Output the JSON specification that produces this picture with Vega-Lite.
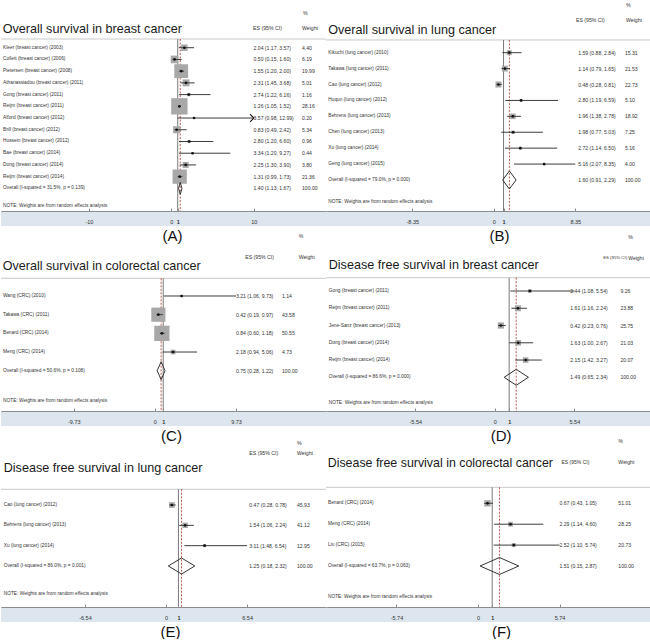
{
"$schema": "https://vega.github.io/schema/vega-lite/v6.json",
"padding": 0,
"background": "white",
"spacing": 0,
"bounds": "flush",
"columns": 2,
"resolve": {"scale": {"size": "independent", "x": "independent", "y": "independent"}},
"config": {
  "view": {"stroke": null},
  "font": "Liberation Sans",
  "axisY": {"disable": true},
  "axisX": {"grid": false, "domainColor": "#8c8c8c", "tickColor": "#8c8c8c", "tickSize": -3, "labelPadding": 11, "labelFontSize": 5.5, "labelColor": "#333333", "labelFlush": false, "labelOverlap": false, "titleFontSize": 15, "titleFont": "Liberation Sans", "titleFontWeight": "normal", "titleColor": "#111111", "titleBaseline": "top", "titleY": 17, "offset": -15}
},
"datasets": {
"A": [
 {"study": "Kleer  (breast cancer) (2003)", "es": 2.04, "lo": 1.17, "hi": 3.57, "weight": 4.40, "ci": "2.04 (1.17, 3.57)", "row": 1, "kind": "study"},
 {"study": "Collett  (breast cancer) (2006)", "es": 0.50, "lo": 0.15, "hi": 1.60, "weight": 6.19, "ci": "0.50 (0.15, 1.60)", "row": 2, "kind": "study"},
 {"study": "Pietersen  (breast cancer) (2008)", "es": 1.55, "lo": 1.20, "hi": 2.00, "weight": 19.99, "ci": "1.55 (1.20, 2.00)", "row": 3, "kind": "study"},
 {"study": "Athanassiadou  (breast cancer) (2011)", "es": 2.31, "lo": 1.45, "hi": 3.68, "weight": 5.01, "ci": "2.31 (1.45, 3.68)", "row": 4, "kind": "study"},
 {"study": "Gong  (breast cancer) (2011)", "es": 2.74, "lo": 1.22, "hi": 6.16, "weight": 1.16, "ci": "2.74 (1.22, 6.16)", "row": 5, "kind": "study"},
 {"study": "Reijm  (breast cancer) (2011)", "es": 1.26, "lo": 1.05, "hi": 1.52, "weight": 28.16, "ci": "1.26 (1.05, 1.52)", "row": 6, "kind": "study"},
 {"study": "Alford  (breast cancer) (2012)", "es": 3.57, "lo": 0.98, "hi": 12.99, "weight": 0.20, "ci": "3.57 (0.98, 12.99)", "row": 7, "kind": "study"},
 {"study": "Brill  (breast cancer) (2012)", "es": 0.83, "lo": 0.49, "hi": 2.42, "weight": 5.34, "ci": "0.83 (0.49, 2.42)", "row": 8, "kind": "study"},
 {"study": "Hussein  (breast cancer) (2012)", "es": 2.80, "lo": 1.20, "hi": 6.60, "weight": 0.96, "ci": "2.80 (1.20, 6.60)", "row": 9, "kind": "study"},
 {"study": "Bae  (breast cancer) (2014)", "es": 3.34, "lo": 1.20, "hi": 9.27, "weight": 0.44, "ci": "3.34 (1.20, 9.27)", "row": 10, "kind": "study"},
 {"study": "Dong  (breast cancer) (2014)", "es": 2.25, "lo": 1.30, "hi": 3.90, "weight": 3.80, "ci": "2.25 (1.30, 3.90)", "row": 11, "kind": "study"},
 {"study": "Reijm  (breast cancer) (2014)", "es": 1.31, "lo": 0.99, "hi": 1.73, "weight": 21.36, "ci": "1.31 (0.99, 1.73)", "row": 12, "kind": "study"},
 {"study": "Overall  (I-squared = 31.5%, p = 0.139)", "es": 1.40, "lo": 1.13, "hi": 1.67, "weight": 100, "ci": "1.40 (1.13, 1.67)", "row": 13, "kind": "overall"}
],
"B": [
 {"study": "Kikuchi  (lung cancer) (2010)", "es": 1.59, "lo": 0.88, "hi": 2.84, "weight": 15.31, "ci": "1.59 (0.88, 2.84)", "row": 1, "kind": "study"},
 {"study": "Takawa  (lung cancer) (2011)", "es": 1.14, "lo": 0.79, "hi": 1.65, "weight": 21.53, "ci": "1.14 (0.79, 1.65)", "row": 2, "kind": "study"},
 {"study": "Cao  (lung cancer) (2012)", "es": 0.48, "lo": 0.28, "hi": 0.81, "weight": 22.73, "ci": "0.48 (0.28, 0.81)", "row": 3, "kind": "study"},
 {"study": "Huqun  (lung cancer) (2012)", "es": 2.80, "lo": 1.19, "hi": 6.59, "weight": 5.10, "ci": "2.80 (1.19, 6.59)", "row": 4, "kind": "study"},
 {"study": "Behrens  (lung cancer) (2013)", "es": 1.96, "lo": 1.38, "hi": 2.78, "weight": 18.92, "ci": "1.96 (1.38, 2.78)", "row": 5, "kind": "study"},
 {"study": "Chen  (lung cancer) (2013)", "es": 1.98, "lo": 0.77, "hi": 5.03, "weight": 7.25, "ci": "1.98 (0.77, 5.03)", "row": 6, "kind": "study"},
 {"study": "Xu  (lung cancer) (2014)", "es": 2.72, "lo": 1.14, "hi": 6.50, "weight": 5.16, "ci": "2.72 (1.14, 6.50)", "row": 7, "kind": "study"},
 {"study": "Geng  (lung cancer) (2015)", "es": 5.16, "lo": 2.07, "hi": 8.35, "weight": 4.00, "ci": "5.16 (2.07, 8.35)", "row": 8, "kind": "study"},
 {"study": "Overall  (I-squared = 79.0%, p = 0.000)", "es": 1.60, "lo": 0.91, "hi": 2.29, "weight": 100, "ci": "1.60 (0.91, 2.29)", "row": 9, "kind": "overall"}
],
"C": [
 {"study": "Wang  (CRC) (2010)", "es": 3.21, "lo": 1.06, "hi": 9.73, "weight": 1.14, "ci": "3.21 (1.06, 9.73)", "row": 1, "kind": "study"},
 {"study": "Takawa  (CRC) (2011)", "es": 0.42, "lo": 0.19, "hi": 0.97, "weight": 43.58, "ci": "0.42 (0.19, 0.97)", "row": 2, "kind": "study"},
 {"study": "Benard  (CRC) (2014)", "es": 0.84, "lo": 0.60, "hi": 1.18, "weight": 50.55, "ci": "0.84 (0.60, 1.18)", "row": 3, "kind": "study"},
 {"study": "Meng  (CRC) (2014)", "es": 2.18, "lo": 0.94, "hi": 5.06, "weight": 4.73, "ci": "2.18 (0.94, 5.06)", "row": 4, "kind": "study"},
 {"study": "Overall  (I-squared = 50.6%, p = 0.108)", "es": 0.75, "lo": 0.28, "hi": 1.22, "weight": 100, "ci": "0.75 (0.28, 1.22)", "row": 5, "kind": "overall"}
],
"D": [
 {"study": "Gong  (breast cancer) (2011)", "es": 2.44, "lo": 1.08, "hi": 5.54, "weight": 9.26, "ci": "2.44 (1.08, 5.54)", "row": 1, "kind": "study"},
 {"study": "Reijm  (breast cancer) (2011)", "es": 1.61, "lo": 1.16, "hi": 2.24, "weight": 23.88, "ci": "1.61 (1.16, 2.24)", "row": 2, "kind": "study"},
 {"study": "Jene-Sanz  (breast cancer) (2013)", "es": 0.42, "lo": 0.23, "hi": 0.76, "weight": 25.75, "ci": "0.42 (0.23, 0.76)", "row": 3, "kind": "study"},
 {"study": "Dong  (breast cancer) (2014)", "es": 1.63, "lo": 1.00, "hi": 2.67, "weight": 21.03, "ci": "1.63 (1.00, 2.67)", "row": 4, "kind": "study"},
 {"study": "Reijm  (breast cancer) (2014)", "es": 2.15, "lo": 1.42, "hi": 3.27, "weight": 20.07, "ci": "2.15 (1.42, 3.27)", "row": 5, "kind": "study"},
 {"study": "Overall  (I-squared = 86.6%, p = 0.000)", "es": 1.49, "lo": 0.65, "hi": 2.34, "weight": 100, "ci": "1.49 (0.65, 2.34)", "row": 6, "kind": "overall"}
],
"E": [
 {"study": "Cao  (lung cancer) (2012)", "es": 0.47, "lo": 0.28, "hi": 0.78, "weight": 45.93, "ci": "0.47 (0.28, 0.78)", "row": 1, "kind": "study"},
 {"study": "Behrens  (lung cancer) (2013)", "es": 1.54, "lo": 1.06, "hi": 2.24, "weight": 41.12, "ci": "1.54 (1.06, 2.24)", "row": 2, "kind": "study"},
 {"study": "Xu  (lung cancer) (2014)", "es": 3.11, "lo": 1.48, "hi": 6.54, "weight": 12.95, "ci": "3.11 (1.48, 6.54)", "row": 3, "kind": "study"},
 {"study": "Overall  (I-squared = 86.0%, p = 0.001)", "es": 1.25, "lo": 0.18, "hi": 2.32, "weight": 100, "ci": "1.25 (0.18, 2.32)", "row": 4, "kind": "overall"}
],
"F": [
 {"study": "Benard  (CRC) (2014)", "es": 0.67, "lo": 0.43, "hi": 1.05, "weight": 51.01, "ci": "0.67 (0.43, 1.05)", "row": 1, "kind": "study"},
 {"study": "Meng  (CRC) (2014)", "es": 2.29, "lo": 1.14, "hi": 4.60, "weight": 28.25, "ci": "2.29 (1.14, 4.60)", "row": 2, "kind": "study"},
 {"study": "Liu  (CRC) (2015)", "es": 2.52, "lo": 1.10, "hi": 5.74, "weight": 20.73, "ci": "2.52 (1.10, 5.74)", "row": 3, "kind": "study"},
 {"study": "Overall  (I-squared = 63.7%, p = 0.063)", "es": 1.51, "lo": 0.15, "hi": 2.87, "weight": 100, "ci": "1.51 (0.15, 2.87)", "row": 4, "kind": "overall"}
]
},
"concat": [
{
 "width": 325, "height": 226, "data": {"name": "A"},
 "layer": [
  {"data": {"values": [{}]}, "mark": {"type": "rect", "color": "#dde6ee"},
   "encoding": {"x": {"datum": -26.83, "type": "quantitative", "scale": {"domain": [-26.83, 24.35], "nice": false, "zero": false},
      "axis": {"zindex": 1, "values": [-12.99, 0, 1, 12.99], "labelExpr": "abs(datum.value) > 12 ? (datum.value < 0 ? '-10' : '10') : '' + datum.value", "title": "(A)", "titleX": 171, "labelFontWeight": {"condition": {"test": "datum.value == 1", "value": "bold"}, "value": "normal"}}},
     "x2": {"datum": 24.35},
     "y": {"datum": 14.94, "type": "quantitative", "scale": {"domain": [-3.07, 16.21], "reverse": true, "nice": false, "zero": false}},
     "y2": {"datum": 16.21}}},
  {"data": {"values": [{}]}, "mark": {"type": "rule", "color": "#c9c9c9", "strokeWidth": 1},
   "encoding": {"x": {"datum": -26.83, "type": "quantitative"}, "x2": {"datum": 24.35}, "y": {"datum": 0.258, "type": "quantitative"}}},
  {"data": {"values": [{}]}, "mark": {"type": "rule", "color": "#7a7a7a", "strokeWidth": 1},
   "encoding": {"x": {"datum": 1, "type": "quantitative"}, "y": {"datum": 0.258, "type": "quantitative"}, "y2": {"datum": 14.94}}},
  {"transform": [{"filter": "datum.kind == 'overall'"}], "mark": {"type": "rule", "color": "#b24a3c", "strokeWidth": 0.9, "strokeDash": [2, 1.5]},
   "encoding": {"x": {"field": "es", "type": "quantitative"}, "y": {"datum": 0.258, "type": "quantitative"}, "y2": {"datum": 14.94}}},
  {"transform": [{"filter": "datum.kind == 'study'"}], "mark": {"type": "point", "shape": "square", "filled": true, "color": "#a8a8a8", "opacity": 1},
   "encoding": {"x": {"field": "es", "type": "quantitative"}, "y": {"field": "row", "type": "quantitative"}, "size": {"field": "weight", "type": "quantitative", "scale": {"domain": [0, 100], "range": [0, 950]}, "legend": null}}},
  {"transform": [{"filter": "datum.kind == 'study'"}], "mark": {"type": "rule", "color": "#3c3c3c", "strokeWidth": 1},
   "encoding": {"x": {"field": "lo", "type": "quantitative"}, "x2": {"field": "hi"}, "y": {"field": "row", "type": "quantitative"}}},
  {"transform": [{"filter": "datum.kind == 'study'"}], "mark": {"type": "point", "shape": "circle", "filled": true, "color": "#111111", "size": 7, "opacity": 1},
   "encoding": {"x": {"field": "es", "type": "quantitative"}, "y": {"field": "row", "type": "quantitative"}}},
  {"transform": [{"filter": "datum.hi > 12"}], "mark": {"type": "point", "shape": "M-1,-1L0,0L-1,1", "filled": false, "color": "#111111", "strokeWidth": 1.1, "size": 60, "opacity": 1},
   "encoding": {"x": {"field": "hi", "type": "quantitative"}, "y": {"field": "row", "type": "quantitative"}}},
  {"transform": [{"filter": "datum.kind == 'overall'"}], "mark": {"type": "rule", "color": "#333333", "strokeWidth": 1, "y2Offset": -6},
   "encoding": {"x": {"field": "lo", "type": "quantitative"}, "x2": {"field": "es"}, "y": {"field": "row", "type": "quantitative"}, "y2": {"field": "row"}}},
  {"transform": [{"filter": "datum.kind == 'overall'"}], "mark": {"type": "rule", "color": "#333333", "strokeWidth": 1, "yOffset": -6},
   "encoding": {"x": {"field": "es", "type": "quantitative"}, "x2": {"field": "hi"}, "y": {"field": "row", "type": "quantitative"}, "y2": {"field": "row"}}},
  {"transform": [{"filter": "datum.kind == 'overall'"}], "mark": {"type": "rule", "color": "#333333", "strokeWidth": 1, "y2Offset": 6},
   "encoding": {"x": {"field": "lo", "type": "quantitative"}, "x2": {"field": "es"}, "y": {"field": "row", "type": "quantitative"}, "y2": {"field": "row"}}},
  {"transform": [{"filter": "datum.kind == 'overall'"}], "mark": {"type": "rule", "color": "#333333", "strokeWidth": 1, "yOffset": 6},
   "encoding": {"x": {"field": "es", "type": "quantitative"}, "x2": {"field": "hi"}, "y": {"field": "row", "type": "quantitative"}, "y2": {"field": "row"}}},
  {"mark": {"type": "text", "align": "left", "baseline": "middle", "fontSize": 4.8, "color": "#333333"},
   "encoding": {"x": {"datum": -26.51, "type": "quantitative"}, "y": {"field": "row", "type": "quantitative"}, "text": {"field": "study"}}},
  {"mark": {"type": "text", "align": "left", "baseline": "middle", "fontSize": 5.1, "color": "#333333"},
   "encoding": {"x": {"datum": 12.94, "type": "quantitative"}, "y": {"field": "row", "type": "quantitative"}, "text": {"field": "ci"}}},
  {"mark": {"type": "text", "align": "left", "baseline": "middle", "fontSize": 5.1, "color": "#333333"},
   "encoding": {"x": {"datum": 20.57, "type": "quantitative"}, "y": {"field": "row", "type": "quantitative"}, "text": {"field": "weight", "format": ".2f"}}},
  {"data": {"values": [{}]}, "mark": {"type": "text", "align": "left", "baseline": "middle", "fontSize": 4.8, "color": "#333333", "text": "NOTE: Weights are from random effects analysis"},
   "encoding": {"x": {"datum": -26.51, "type": "quantitative"}, "y": {"datum": 14.48, "type": "quantitative"}}},
  {"data": {"values": [{}]}, "mark": {"type": "text", "align": "left", "baseline": "alphabetic", "fontSize": 12.6, "color": "#1a1a1a", "text": "Overall survival in breast cancer"},
   "encoding": {"x": {"datum": -26.56, "type": "quantitative"}, "y": {"datum": -0.23, "type": "quantitative"}}},
  {"data": {"values": [{}]}, "mark": {"type": "text", "align": "left", "baseline": "middle", "fontSize": 5.2, "color": "#333333", "text": "ES (95% CI)"},
   "encoding": {"x": {"datum": 12.86, "type": "quantitative"}, "y": {"datum": -0.655, "type": "quantitative"}}},
  {"data": {"values": [{}]}, "mark": {"type": "text", "align": "left", "baseline": "middle", "fontSize": 5.2, "color": "#333333", "text": "Weight"},
   "encoding": {"x": {"datum": 20.57, "type": "quantitative"}, "y": {"datum": -0.655, "type": "quantitative"}}},
  {"data": {"values": [{}]}, "mark": {"type": "text", "align": "left", "baseline": "middle", "fontSize": 5.2, "color": "#333333", "text": "%"},
   "encoding": {"x": {"datum": 20.73, "type": "quantitative"}, "y": {"datum": -1.96, "type": "quantitative"}}}
 ]
},
{
 "width": 325, "height": 226, "data": {"name": "B"},
 "layer": [
  {"data": {"values": [{}]}, "mark": {"type": "rect", "color": "#dde6ee"},
   "encoding": {"x": {"datum": -17.19, "type": "quantitative", "scale": {"domain": [-17.19, 16.11], "nice": false, "zero": false},
      "axis": {"zindex": 1, "values": [-8.35, 0, 1, 8.35], "labelExpr": "datum.value < 0 ? '-' + abs(datum.value) : '' + datum.value", "title": "(B)", "titleX": 173, "labelFontWeight": {"condition": {"test": "datum.value == 1", "value": "bold"}, "value": "normal"}}},
     "x2": {"datum": 16.11},
     "y": {"datum": 10.95, "type": "quantitative", "scale": {"domain": [-2.312, 11.893], "reverse": true, "nice": false, "zero": false}},
     "y2": {"datum": 11.893}}},
  {"data": {"values": [{}]}, "mark": {"type": "rule", "color": "#c9c9c9", "strokeWidth": 1},
   "encoding": {"x": {"datum": -17.19, "type": "quantitative"}, "x2": {"datum": 16.11}, "y": {"datum": 0.20, "type": "quantitative"}}},
  {"data": {"values": [{}]}, "mark": {"type": "rule", "color": "#7a7a7a", "strokeWidth": 1},
   "encoding": {"x": {"datum": 1, "type": "quantitative"}, "y": {"datum": 0.20, "type": "quantitative"}, "y2": {"datum": 10.95}}},
  {"transform": [{"filter": "datum.kind == 'overall'"}], "mark": {"type": "rule", "color": "#b24a3c", "strokeWidth": 0.9, "strokeDash": [2, 1.5]},
   "encoding": {"x": {"field": "es", "type": "quantitative"}, "y": {"datum": 0.20, "type": "quantitative"}, "y2": {"datum": 10.95}}},
  {"transform": [{"filter": "datum.kind == 'study'"}], "mark": {"type": "point", "shape": "square", "filled": true, "color": "#a8a8a8", "opacity": 1},
   "encoding": {"x": {"field": "es", "type": "quantitative"}, "y": {"field": "row", "type": "quantitative"}, "size": {"field": "weight", "type": "quantitative", "scale": {"domain": [0, 100], "range": [0, 160]}, "legend": null}}},
  {"transform": [{"filter": "datum.kind == 'study'"}], "mark": {"type": "rule", "color": "#3c3c3c", "strokeWidth": 1},
   "encoding": {"x": {"field": "lo", "type": "quantitative"}, "x2": {"field": "hi"}, "y": {"field": "row", "type": "quantitative"}}},
  {"transform": [{"filter": "datum.kind == 'study'"}], "mark": {"type": "point", "shape": "circle", "filled": true, "color": "#111111", "size": 7, "opacity": 1},
   "encoding": {"x": {"field": "es", "type": "quantitative"}, "y": {"field": "row", "type": "quantitative"}}},
  {"transform": [{"filter": "datum.kind == 'overall'"}], "mark": {"type": "rule", "color": "#333333", "strokeWidth": 1, "y2Offset": -9},
   "encoding": {"x": {"field": "lo", "type": "quantitative"}, "x2": {"field": "es"}, "y": {"field": "row", "type": "quantitative"}, "y2": {"field": "row"}}},
  {"transform": [{"filter": "datum.kind == 'overall'"}], "mark": {"type": "rule", "color": "#333333", "strokeWidth": 1, "yOffset": -9},
   "encoding": {"x": {"field": "es", "type": "quantitative"}, "x2": {"field": "hi"}, "y": {"field": "row", "type": "quantitative"}, "y2": {"field": "row"}}},
  {"transform": [{"filter": "datum.kind == 'overall'"}], "mark": {"type": "rule", "color": "#333333", "strokeWidth": 1, "y2Offset": 9},
   "encoding": {"x": {"field": "lo", "type": "quantitative"}, "x2": {"field": "es"}, "y": {"field": "row", "type": "quantitative"}, "y2": {"field": "row"}}},
  {"transform": [{"filter": "datum.kind == 'overall'"}], "mark": {"type": "rule", "color": "#333333", "strokeWidth": 1, "yOffset": 9},
   "encoding": {"x": {"field": "es", "type": "quantitative"}, "x2": {"field": "hi"}, "y": {"field": "row", "type": "quantitative"}, "y2": {"field": "row"}}},
  {"mark": {"type": "text", "align": "left", "baseline": "middle", "fontSize": 4.8, "color": "#333333"},
   "encoding": {"x": {"datum": -16.96, "type": "quantitative"}, "y": {"field": "row", "type": "quantitative"}, "text": {"field": "study"}}},
  {"mark": {"type": "text", "align": "left", "baseline": "middle", "fontSize": 5.1, "color": "#333333"},
   "encoding": {"x": {"datum": 8.66, "type": "quantitative"}, "y": {"field": "row", "type": "quantitative"}, "text": {"field": "ci"}}},
  {"mark": {"type": "text", "align": "left", "baseline": "middle", "fontSize": 5.1, "color": "#333333"},
   "encoding": {"x": {"datum": 13.44, "type": "quantitative"}, "y": {"field": "row", "type": "quantitative"}, "text": {"field": "weight", "format": ".2f"}}},
  {"data": {"values": [{}]}, "mark": {"type": "text", "align": "left", "baseline": "middle", "fontSize": 4.8, "color": "#333333", "text": "NOTE: Weights are from random effects analysis"},
   "encoding": {"x": {"datum": -16.96, "type": "quantitative"}, "y": {"datum": 10.40, "type": "quantitative"}}},
  {"data": {"values": [{}]}, "mark": {"type": "text", "align": "left", "baseline": "alphabetic", "fontSize": 12.6, "color": "#1a1a1a", "text": "Overall survival in lung cancer"},
   "encoding": {"x": {"datum": -16.96, "type": "quantitative"}, "y": {"datum": -0.157, "type": "quantitative"}}},
  {"data": {"values": [{}]}, "mark": {"type": "text", "align": "left", "baseline": "middle", "fontSize": 5.2, "color": "#333333", "text": "ES (95% CI)"},
   "encoding": {"x": {"datum": 8.42, "type": "quantitative"}, "y": {"datum": -1.055, "type": "quantitative"}}},
  {"data": {"values": [{}]}, "mark": {"type": "text", "align": "left", "baseline": "middle", "fontSize": 5.2, "color": "#333333", "text": "Weight"},
   "encoding": {"x": {"datum": 13.55, "type": "quantitative"}, "y": {"datum": -1.055, "type": "quantitative"}}},
  {"data": {"values": [{}]}, "mark": {"type": "text", "align": "left", "baseline": "middle", "fontSize": 5.2, "color": "#333333", "text": "%"},
   "encoding": {"x": {"datum": 13.55, "type": "quantitative"}, "y": {"datum": -2.0, "type": "quantitative"}}}
 ]
},
{
 "width": 325, "height": 200, "data": {"name": "C"},
 "layer": [
  {"data": {"values": [{}]}, "mark": {"type": "rect", "color": "#dde6ee"},
   "encoding": {"x": {"datum": -18.45, "type": "quantitative", "scale": {"domain": [-18.45, 20.52], "nice": false, "zero": false},
      "axis": {"zindex": 1, "values": [-9.73, 0, 1, 9.73], "labelExpr": "datum.value < 0 ? '-' + abs(datum.value) : '' + datum.value", "title": "(C)", "titleX": 170, "labelFontWeight": {"condition": {"test": "datum.value == 1", "value": "bold"}, "value": "normal"}}},
     "x2": {"datum": 20.52},
     "y": {"datum": 7.158, "type": "quantitative", "scale": {"domain": [-2.748, 7.961], "reverse": true, "nice": false, "zero": false}},
     "y2": {"datum": 7.961}}},
  {"data": {"values": [{}]}, "mark": {"type": "rule", "color": "#c9c9c9", "strokeWidth": 1},
   "encoding": {"x": {"datum": -18.45, "type": "quantitative"}, "x2": {"datum": 20.52}, "y": {"datum": 0.052, "type": "quantitative"}}},
  {"data": {"values": [{}]}, "mark": {"type": "rule", "color": "#7a7a7a", "strokeWidth": 1},
   "encoding": {"x": {"datum": 1, "type": "quantitative"}, "y": {"datum": 0.052, "type": "quantitative"}, "y2": {"datum": 7.158}}},
  {"transform": [{"filter": "datum.kind == 'overall'"}], "mark": {"type": "rule", "color": "#b24a3c", "strokeWidth": 0.9, "strokeDash": [2, 1.5]},
   "encoding": {"x": {"field": "es", "type": "quantitative"}, "y": {"datum": 0.052, "type": "quantitative"}, "y2": {"datum": 7.158}}},
  {"transform": [{"filter": "datum.kind == 'study'"}], "mark": {"type": "point", "shape": "square", "filled": true, "color": "#a8a8a8", "opacity": 1},
   "encoding": {"x": {"field": "es", "type": "quantitative"}, "y": {"field": "row", "type": "quantitative"}, "size": {"field": "weight", "type": "quantitative", "scale": {"domain": [0, 100], "range": [0, 460]}, "legend": null}}},
  {"transform": [{"filter": "datum.kind == 'study'"}], "mark": {"type": "rule", "color": "#3c3c3c", "strokeWidth": 1},
   "encoding": {"x": {"field": "lo", "type": "quantitative"}, "x2": {"field": "hi"}, "y": {"field": "row", "type": "quantitative"}}},
  {"transform": [{"filter": "datum.kind == 'study'"}], "mark": {"type": "point", "shape": "circle", "filled": true, "color": "#111111", "size": 7, "opacity": 1},
   "encoding": {"x": {"field": "es", "type": "quantitative"}, "y": {"field": "row", "type": "quantitative"}}},
  {"transform": [{"filter": "datum.kind == 'overall'"}], "mark": {"type": "rule", "color": "#333333", "strokeWidth": 1, "y2Offset": -9},
   "encoding": {"x": {"field": "lo", "type": "quantitative"}, "x2": {"field": "es"}, "y": {"field": "row", "type": "quantitative"}, "y2": {"field": "row"}}},
  {"transform": [{"filter": "datum.kind == 'overall'"}], "mark": {"type": "rule", "color": "#333333", "strokeWidth": 1, "yOffset": -9},
   "encoding": {"x": {"field": "es", "type": "quantitative"}, "x2": {"field": "hi"}, "y": {"field": "row", "type": "quantitative"}, "y2": {"field": "row"}}},
  {"transform": [{"filter": "datum.kind == 'overall'"}], "mark": {"type": "rule", "color": "#333333", "strokeWidth": 1, "y2Offset": 9},
   "encoding": {"x": {"field": "lo", "type": "quantitative"}, "x2": {"field": "es"}, "y": {"field": "row", "type": "quantitative"}, "y2": {"field": "row"}}},
  {"transform": [{"filter": "datum.kind == 'overall'"}], "mark": {"type": "rule", "color": "#333333", "strokeWidth": 1, "yOffset": 9},
   "encoding": {"x": {"field": "es", "type": "quantitative"}, "x2": {"field": "hi"}, "y": {"field": "row", "type": "quantitative"}, "y2": {"field": "row"}}},
  {"mark": {"type": "text", "align": "left", "baseline": "middle", "fontSize": 4.8, "color": "#333333"},
   "encoding": {"x": {"datum": -18.21, "type": "quantitative"}, "y": {"field": "row", "type": "quantitative"}, "text": {"field": "study"}}},
  {"mark": {"type": "text", "align": "left", "baseline": "middle", "fontSize": 5.1, "color": "#333333"},
   "encoding": {"x": {"datum": 9.72, "type": "quantitative"}, "y": {"field": "row", "type": "quantitative"}, "text": {"field": "ci"}}},
  {"mark": {"type": "text", "align": "left", "baseline": "middle", "fontSize": 5.1, "color": "#333333"},
   "encoding": {"x": {"datum": 15.24, "type": "quantitative"}, "y": {"field": "row", "type": "quantitative"}, "text": {"field": "weight", "format": ".2f"}}},
  {"data": {"values": [{}]}, "mark": {"type": "text", "align": "left", "baseline": "middle", "fontSize": 4.8, "color": "#333333", "text": "NOTE: Weights are from random effects analysis"},
   "encoding": {"x": {"datum": -18.21, "type": "quantitative"}, "y": {"datum": 6.62, "type": "quantitative"}}},
  {"data": {"values": [{}]}, "mark": {"type": "text", "align": "left", "baseline": "alphabetic", "fontSize": 12.6, "color": "#1a1a1a", "text": "Overall survival in colorectal cancer"},
   "encoding": {"x": {"datum": -18.25, "type": "quantitative"}, "y": {"datum": -0.392, "type": "quantitative"}}},
  {"data": {"values": [{}]}, "mark": {"type": "text", "align": "left", "baseline": "middle", "fontSize": 5.2, "color": "#333333", "text": "ES (95% CI)"},
   "encoding": {"x": {"datum": 10.83, "type": "quantitative"}, "y": {"datum": -1.104, "type": "quantitative"}}},
  {"data": {"values": [{}]}, "mark": {"type": "text", "align": "left", "baseline": "middle", "fontSize": 5.2, "color": "#333333", "text": "Weight"},
   "encoding": {"x": {"datum": 17.24, "type": "quantitative"}, "y": {"datum": -1.104, "type": "quantitative"}}},
  {"data": {"values": [{}]}, "mark": {"type": "text", "align": "left", "baseline": "middle", "fontSize": 5.2, "color": "#333333", "text": "%"},
   "encoding": {"x": {"datum": 17.24, "type": "quantitative"}, "y": {"datum": -2.229, "type": "quantitative"}}}
 ]
},
{
 "width": 325, "height": 200, "data": {"name": "D"},
 "layer": [
  {"data": {"values": [{}]}, "mark": {"type": "rect", "color": "#dde6ee"},
   "encoding": {"x": {"datum": -11.76, "type": "quantitative", "scale": {"domain": [-11.76, 10.88], "nice": false, "zero": false},
      "axis": {"zindex": 1, "values": [-5.54, 0, 1, 5.54], "labelExpr": "datum.value < 0 ? '-' + abs(datum.value) : '' + datum.value", "title": "(D)", "titleX": 174.6, "labelFontWeight": {"condition": {"test": "datum.value == 1", "value": "bold"}, "value": "normal"}}},
     "x2": {"datum": 10.88},
     "y": {"datum": 7.952, "type": "quantitative", "scale": {"domain": [-2.766, 8.821], "reverse": true, "nice": false, "zero": false}},
     "y2": {"datum": 8.821}}},
  {"data": {"values": [{}]}, "mark": {"type": "rule", "color": "#c9c9c9", "strokeWidth": 1},
   "encoding": {"x": {"datum": -11.76, "type": "quantitative"}, "x2": {"datum": 10.88}, "y": {"datum": 0.229, "type": "quantitative"}}},
  {"data": {"values": [{}]}, "mark": {"type": "rule", "color": "#7a7a7a", "strokeWidth": 1},
   "encoding": {"x": {"datum": 1, "type": "quantitative"}, "y": {"datum": 0.229, "type": "quantitative"}, "y2": {"datum": 7.952}}},
  {"transform": [{"filter": "datum.kind == 'overall'"}], "mark": {"type": "rule", "color": "#b24a3c", "strokeWidth": 0.9, "strokeDash": [2, 1.5]},
   "encoding": {"x": {"field": "es", "type": "quantitative"}, "y": {"datum": 0.229, "type": "quantitative"}, "y2": {"datum": 7.952}}},
  {"transform": [{"filter": "datum.kind == 'study'"}], "mark": {"type": "point", "shape": "square", "filled": true, "color": "#a8a8a8", "opacity": 1},
   "encoding": {"x": {"field": "es", "type": "quantitative"}, "y": {"field": "row", "type": "quantitative"}, "size": {"field": "weight", "type": "quantitative", "scale": {"domain": [0, 100], "range": [0, 150]}, "legend": null}}},
  {"transform": [{"filter": "datum.kind == 'study'"}], "mark": {"type": "rule", "color": "#3c3c3c", "strokeWidth": 1},
   "encoding": {"x": {"field": "lo", "type": "quantitative"}, "x2": {"field": "hi"}, "y": {"field": "row", "type": "quantitative"}}},
  {"transform": [{"filter": "datum.kind == 'study'"}], "mark": {"type": "point", "shape": "circle", "filled": true, "color": "#111111", "size": 7, "opacity": 1},
   "encoding": {"x": {"field": "es", "type": "quantitative"}, "y": {"field": "row", "type": "quantitative"}}},
  {"transform": [{"filter": "datum.kind == 'overall'"}], "mark": {"type": "rule", "color": "#333333", "strokeWidth": 1, "y2Offset": -8},
   "encoding": {"x": {"field": "lo", "type": "quantitative"}, "x2": {"field": "es"}, "y": {"field": "row", "type": "quantitative"}, "y2": {"field": "row"}}},
  {"transform": [{"filter": "datum.kind == 'overall'"}], "mark": {"type": "rule", "color": "#333333", "strokeWidth": 1, "yOffset": -8},
   "encoding": {"x": {"field": "es", "type": "quantitative"}, "x2": {"field": "hi"}, "y": {"field": "row", "type": "quantitative"}, "y2": {"field": "row"}}},
  {"transform": [{"filter": "datum.kind == 'overall'"}], "mark": {"type": "rule", "color": "#333333", "strokeWidth": 1, "y2Offset": 8},
   "encoding": {"x": {"field": "lo", "type": "quantitative"}, "x2": {"field": "es"}, "y": {"field": "row", "type": "quantitative"}, "y2": {"field": "row"}}},
  {"transform": [{"filter": "datum.kind == 'overall'"}], "mark": {"type": "rule", "color": "#333333", "strokeWidth": 1, "yOffset": 8},
   "encoding": {"x": {"field": "es", "type": "quantitative"}, "x2": {"field": "hi"}, "y": {"field": "row", "type": "quantitative"}, "y2": {"field": "row"}}},
  {"mark": {"type": "text", "align": "left", "baseline": "middle", "fontSize": 4.8, "color": "#333333"},
   "encoding": {"x": {"datum": -11.57, "type": "quantitative"}, "y": {"field": "row", "type": "quantitative"}, "text": {"field": "study"}}},
  {"mark": {"type": "text", "align": "left", "baseline": "middle", "fontSize": 5.1, "color": "#333333"},
   "encoding": {"x": {"datum": 5.26, "type": "quantitative"}, "y": {"field": "row", "type": "quantitative"}, "text": {"field": "ci"}}},
  {"mark": {"type": "text", "align": "left", "baseline": "middle", "fontSize": 5.1, "color": "#333333"},
   "encoding": {"x": {"datum": 8.75, "type": "quantitative"}, "y": {"field": "row", "type": "quantitative"}, "text": {"field": "weight", "format": ".2f"}}},
  {"data": {"values": [{}]}, "mark": {"type": "text", "align": "left", "baseline": "middle", "fontSize": 4.8, "color": "#333333", "text": "NOTE: Weights are from random effects analysis"},
   "encoding": {"x": {"datum": -11.57, "type": "quantitative"}, "y": {"datum": 7.47, "type": "quantitative"}}},
  {"data": {"values": [{}]}, "mark": {"type": "text", "align": "left", "baseline": "alphabetic", "fontSize": 12.6, "color": "#1a1a1a", "text": "Disease free survival in breast cancer"},
   "encoding": {"x": {"datum": -11.57, "type": "quantitative"}, "y": {"datum": -0.275, "type": "quantitative"}}},
  {"data": {"values": [{}]}, "mark": {"type": "text", "align": "left", "baseline": "middle", "fontSize": 4.3, "color": "#333333", "text": "ES (95% CI)"},
   "encoding": {"x": {"datum": 7.55, "type": "quantitative"}, "y": {"datum": -0.929, "type": "quantitative"}}},
  {"data": {"values": [{}]}, "mark": {"type": "text", "align": "left", "baseline": "middle", "fontSize": 5.0, "color": "#333333", "text": "Weight"},
   "encoding": {"x": {"datum": 9.30, "type": "quantitative"}, "y": {"datum": -0.929, "type": "quantitative"}}},
  {"data": {"values": [{}]}, "mark": {"type": "text", "align": "left", "baseline": "middle", "fontSize": 5.2, "color": "#333333", "text": "%"},
   "encoding": {"x": {"datum": 9.30, "type": "quantitative"}, "y": {"datum": -2.146, "type": "quantitative"}}}
 ]
},
{
 "width": 325, "height": 196, "data": {"name": "E"},
 "layer": [
  {"data": {"values": [{}]}, "mark": {"type": "rect", "color": "#dde6ee"},
   "encoding": {"x": {"datum": -13.31, "type": "quantitative", "scale": {"domain": [-13.31, 12.90], "nice": false, "zero": false},
      "axis": {"zindex": 1, "values": [-6.54, 0, 1, 6.54], "labelExpr": "datum.value < 0 ? '-' + abs(datum.value) : '' + datum.value", "title": "(E)", "titleX": 169, "labelFontWeight": {"condition": {"test": "datum.value == 1", "value": "bold"}, "value": "normal"}}},
     "x2": {"datum": 12.90},
     "y": {"datum": 6.017, "type": "quantitative", "scale": {"domain": [-2.886, 6.755], "reverse": true, "nice": false, "zero": false}},
     "y2": {"datum": 6.755}}},
  {"data": {"values": [{}]}, "mark": {"type": "rule", "color": "#c9c9c9", "strokeWidth": 1},
   "encoding": {"x": {"datum": -13.31, "type": "quantitative"}, "x2": {"datum": 12.90}, "y": {"datum": 0.228, "type": "quantitative"}}},
  {"data": {"values": [{}]}, "mark": {"type": "rule", "color": "#7a7a7a", "strokeWidth": 1},
   "encoding": {"x": {"datum": 1, "type": "quantitative"}, "y": {"datum": 0.228, "type": "quantitative"}, "y2": {"datum": 6.017}}},
  {"transform": [{"filter": "datum.kind == 'overall'"}], "mark": {"type": "rule", "color": "#b24a3c", "strokeWidth": 0.9, "strokeDash": [2, 1.5]},
   "encoding": {"x": {"field": "es", "type": "quantitative"}, "y": {"datum": 0.228, "type": "quantitative"}, "y2": {"datum": 6.017}}},
  {"transform": [{"filter": "datum.kind == 'study'"}], "mark": {"type": "point", "shape": "square", "filled": true, "color": "#a8a8a8", "opacity": 1},
   "encoding": {"x": {"field": "es", "type": "quantitative"}, "y": {"field": "row", "type": "quantitative"}, "size": {"field": "weight", "type": "quantitative", "scale": {"domain": [0, 100], "range": [0, 70]}, "legend": null}}},
  {"transform": [{"filter": "datum.kind == 'study'"}], "mark": {"type": "rule", "color": "#3c3c3c", "strokeWidth": 1},
   "encoding": {"x": {"field": "lo", "type": "quantitative"}, "x2": {"field": "hi"}, "y": {"field": "row", "type": "quantitative"}}},
  {"transform": [{"filter": "datum.kind == 'study'"}], "mark": {"type": "point", "shape": "circle", "filled": true, "color": "#111111", "size": 7, "opacity": 1},
   "encoding": {"x": {"field": "es", "type": "quantitative"}, "y": {"field": "row", "type": "quantitative"}}},
  {"transform": [{"filter": "datum.kind == 'overall'"}], "mark": {"type": "rule", "color": "#333333", "strokeWidth": 1, "y2Offset": -8},
   "encoding": {"x": {"field": "lo", "type": "quantitative"}, "x2": {"field": "es"}, "y": {"field": "row", "type": "quantitative"}, "y2": {"field": "row"}}},
  {"transform": [{"filter": "datum.kind == 'overall'"}], "mark": {"type": "rule", "color": "#333333", "strokeWidth": 1, "yOffset": -8},
   "encoding": {"x": {"field": "es", "type": "quantitative"}, "x2": {"field": "hi"}, "y": {"field": "row", "type": "quantitative"}, "y2": {"field": "row"}}},
  {"transform": [{"filter": "datum.kind == 'overall'"}], "mark": {"type": "rule", "color": "#333333", "strokeWidth": 1, "y2Offset": 8},
   "encoding": {"x": {"field": "lo", "type": "quantitative"}, "x2": {"field": "es"}, "y": {"field": "row", "type": "quantitative"}, "y2": {"field": "row"}}},
  {"transform": [{"filter": "datum.kind == 'overall'"}], "mark": {"type": "rule", "color": "#333333", "strokeWidth": 1, "yOffset": 8},
   "encoding": {"x": {"field": "es", "type": "quantitative"}, "x2": {"field": "hi"}, "y": {"field": "row", "type": "quantitative"}, "y2": {"field": "row"}}},
  {"mark": {"type": "text", "align": "left", "baseline": "middle", "fontSize": 4.8, "color": "#333333"},
   "encoding": {"x": {"datum": -13.09, "type": "quantitative"}, "y": {"field": "row", "type": "quantitative"}, "text": {"field": "study"}}},
  {"mark": {"type": "text", "align": "left", "baseline": "middle", "fontSize": 5.1, "color": "#333333"},
   "encoding": {"x": {"datum": 6.72, "type": "quantitative"}, "y": {"field": "row", "type": "quantitative"}, "text": {"field": "ci"}}},
  {"mark": {"type": "text", "align": "left", "baseline": "middle", "fontSize": 5.1, "color": "#333333"},
   "encoding": {"x": {"datum": 10.56, "type": "quantitative"}, "y": {"field": "row", "type": "quantitative"}, "text": {"field": "weight", "format": ".2f"}}},
  {"data": {"values": [{}]}, "mark": {"type": "text", "align": "left", "baseline": "middle", "fontSize": 4.8, "color": "#333333", "text": "NOTE: Weights are from random effects analysis"},
   "encoding": {"x": {"datum": -13.09, "type": "quantitative"}, "y": {"datum": 5.378, "type": "quantitative"}}},
  {"data": {"values": [{}]}, "mark": {"type": "text", "align": "left", "baseline": "alphabetic", "fontSize": 12.6, "color": "#1a1a1a", "text": "Disease free survival in lung cancer"},
   "encoding": {"x": {"datum": -13.09, "type": "quantitative"}, "y": {"datum": -0.638, "type": "quantitative"}}},
  {"data": {"values": [{}]}, "mark": {"type": "text", "align": "left", "baseline": "middle", "fontSize": 5.2, "color": "#333333", "text": "ES (95% CI)"},
   "encoding": {"x": {"datum": 6.72, "type": "quantitative"}, "y": {"datum": -1.543, "type": "quantitative"}}},
  {"data": {"values": [{}]}, "mark": {"type": "text", "align": "left", "baseline": "middle", "fontSize": 5.2, "color": "#333333", "text": "Weight"},
   "encoding": {"x": {"datum": 10.56, "type": "quantitative"}, "y": {"datum": -1.543, "type": "quantitative"}}},
  {"data": {"values": [{}]}, "mark": {"type": "text", "align": "left", "baseline": "middle", "fontSize": 5.2, "color": "#333333", "text": "%"},
   "encoding": {"x": {"datum": 10.56, "type": "quantitative"}, "y": {"datum": -2.064, "type": "quantitative"}}}
 ]
},
{
 "width": 325, "height": 196, "data": {"name": "F"},
 "layer": [
  {"data": {"values": [{}]}, "mark": {"type": "rect", "color": "#dde6ee"},
   "encoding": {"x": {"datum": -10.70, "type": "quantitative", "scale": {"domain": [-10.70, 12.18], "nice": false, "zero": false},
      "axis": {"zindex": 1, "values": [-5.74, 0, 1, 5.74], "labelExpr": "datum.value < 0 ? '-' + abs(datum.value) : '' + datum.value", "title": "(F)", "titleX": 175, "labelFontWeight": {"condition": {"test": "datum.value == 1", "value": "bold"}, "value": "normal"}}},
     "x2": {"datum": 12.18},
     "y": {"datum": 5.962, "type": "quantitative", "scale": {"domain": [-2.699, 6.679], "reverse": true, "nice": false, "zero": false}},
     "y2": {"datum": 6.679}}},
  {"data": {"values": [{}]}, "mark": {"type": "rule", "color": "#c9c9c9", "strokeWidth": 1},
   "encoding": {"x": {"datum": -10.70, "type": "quantitative"}, "x2": {"datum": 12.18}, "y": {"datum": 0.234, "type": "quantitative"}}},
  {"data": {"values": [{}]}, "mark": {"type": "rule", "color": "#7a7a7a", "strokeWidth": 1},
   "encoding": {"x": {"datum": 1, "type": "quantitative"}, "y": {"datum": 0.234, "type": "quantitative"}, "y2": {"datum": 5.962}}},
  {"transform": [{"filter": "datum.kind == 'overall'"}], "mark": {"type": "rule", "color": "#b24a3c", "strokeWidth": 0.9, "strokeDash": [2, 1.5]},
   "encoding": {"x": {"field": "es", "type": "quantitative"}, "y": {"datum": 0.234, "type": "quantitative"}, "y2": {"datum": 5.962}}},
  {"transform": [{"filter": "datum.kind == 'study'"}], "mark": {"type": "point", "shape": "square", "filled": true, "color": "#a8a8a8", "opacity": 1},
   "encoding": {"x": {"field": "es", "type": "quantitative"}, "y": {"field": "row", "type": "quantitative"}, "size": {"field": "weight", "type": "quantitative", "scale": {"domain": [0, 100], "range": [0, 80]}, "legend": null}}},
  {"transform": [{"filter": "datum.kind == 'study'"}], "mark": {"type": "rule", "color": "#3c3c3c", "strokeWidth": 1},
   "encoding": {"x": {"field": "lo", "type": "quantitative"}, "x2": {"field": "hi"}, "y": {"field": "row", "type": "quantitative"}}},
  {"transform": [{"filter": "datum.kind == 'study'"}], "mark": {"type": "point", "shape": "circle", "filled": true, "color": "#111111", "size": 7, "opacity": 1},
   "encoding": {"x": {"field": "es", "type": "quantitative"}, "y": {"field": "row", "type": "quantitative"}}},
  {"transform": [{"filter": "datum.kind == 'overall'"}], "mark": {"type": "rule", "color": "#333333", "strokeWidth": 1, "y2Offset": -8.5},
   "encoding": {"x": {"field": "lo", "type": "quantitative"}, "x2": {"field": "es"}, "y": {"field": "row", "type": "quantitative"}, "y2": {"field": "row"}}},
  {"transform": [{"filter": "datum.kind == 'overall'"}], "mark": {"type": "rule", "color": "#333333", "strokeWidth": 1, "yOffset": -8.5},
   "encoding": {"x": {"field": "es", "type": "quantitative"}, "x2": {"field": "hi"}, "y": {"field": "row", "type": "quantitative"}, "y2": {"field": "row"}}},
  {"transform": [{"filter": "datum.kind == 'overall'"}], "mark": {"type": "rule", "color": "#333333", "strokeWidth": 1, "y2Offset": 8.5},
   "encoding": {"x": {"field": "lo", "type": "quantitative"}, "x2": {"field": "es"}, "y": {"field": "row", "type": "quantitative"}, "y2": {"field": "row"}}},
  {"transform": [{"filter": "datum.kind == 'overall'"}], "mark": {"type": "rule", "color": "#333333", "strokeWidth": 1, "yOffset": 8.5},
   "encoding": {"x": {"field": "es", "type": "quantitative"}, "x2": {"field": "hi"}, "y": {"field": "row", "type": "quantitative"}, "y2": {"field": "row"}}},
  {"mark": {"type": "text", "align": "left", "baseline": "middle", "fontSize": 4.8, "color": "#333333"},
   "encoding": {"x": {"datum": -10.56, "type": "quantitative"}, "y": {"field": "row", "type": "quantitative"}, "text": {"field": "study"}}},
  {"mark": {"type": "text", "align": "left", "baseline": "middle", "fontSize": 5.1, "color": "#333333"},
   "encoding": {"x": {"datum": 5.73, "type": "quantitative"}, "y": {"field": "row", "type": "quantitative"}, "text": {"field": "ci"}}},
  {"mark": {"type": "text", "align": "left", "baseline": "middle", "fontSize": 5.1, "color": "#333333"},
   "encoding": {"x": {"datum": 9.88, "type": "quantitative"}, "y": {"field": "row", "type": "quantitative"}, "text": {"field": "weight", "format": ".2f"}}},
  {"data": {"values": [{}]}, "mark": {"type": "text", "align": "left", "baseline": "middle", "fontSize": 4.8, "color": "#333333", "text": "NOTE: Weights are from random effects analysis"},
   "encoding": {"x": {"datum": -10.56, "type": "quantitative"}, "y": {"datum": 5.498, "type": "quantitative"}}},
  {"data": {"values": [{}]}, "mark": {"type": "text", "align": "left", "baseline": "alphabetic", "fontSize": 12.4, "color": "#1a1a1a", "text": "Disease free survival in colorectal cancer"},
   "encoding": {"x": {"datum": -10.58, "type": "quantitative"}, "y": {"datum": -0.751, "type": "quantitative"}}},
  {"data": {"values": [{}]}, "mark": {"type": "text", "align": "left", "baseline": "middle", "fontSize": 5.0, "color": "#333333", "text": "ES (95% CI)"},
   "encoding": {"x": {"datum": 5.88, "type": "quantitative"}, "y": {"datum": -0.990, "type": "quantitative"}}},
  {"data": {"values": [{}]}, "mark": {"type": "text", "align": "left", "baseline": "middle", "fontSize": 5.2, "color": "#333333", "text": "Weight"},
   "encoding": {"x": {"datum": 9.88, "type": "quantitative"}, "y": {"datum": -0.990, "type": "quantitative"}}},
  {"data": {"values": [{}]}, "mark": {"type": "text", "align": "left", "baseline": "middle", "fontSize": 5.2, "color": "#333333", "text": "%"},
   "encoding": {"x": {"datum": 9.88, "type": "quantitative"}, "y": {"datum": -1.995, "type": "quantitative"}}}
 ]
}
]
}
